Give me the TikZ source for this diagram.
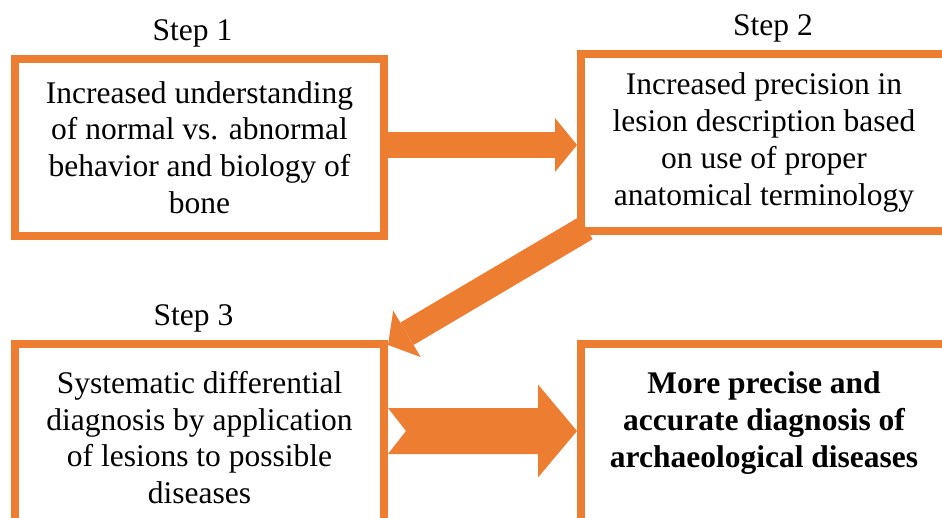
\documentclass[tikz,border=0pt]{standalone}
\usepackage{fontspec}
\setmainfont{Liberation Serif}
\definecolor{accent}{HTML}{ED7D31}
\usetikzlibrary{arrows.meta,calc}

\begin{document}
\begin{tikzpicture}[
  x=1pt, y=-1pt,
  stepbox/.style={rectangle, draw=accent, line width=8pt, fill=white, minimum width=369pt, minimum height=177pt, inner sep=0pt, align=center, font=\fontsize{31.5}{36.7}\selectfont},
  steplabel/.style={anchor=base, font=\fontsize{31.5}{36.7}\selectfont},
  flow/.style={accent, line width=26pt, -{Triangle[length=22pt, width=54pt, line width=0pt]}},
]
\useasboundingbox (0,0) rectangle (942,518);
\clip (0,0) rectangle (942,518);
\node[stepbox] (understand) at (199.5,147.5) {Increased understanding\\of normal vs. abnormal\\behavior and biology of\\bone};
\node[stepbox, minimum width=366pt] (precision) at (764,142.5) {Increased precision in\\lesion description based\\on use of proper\\anatomical terminology};
\node[stepbox, minimum height=187pt] (differential) at (199.5,437.5) {Systematic differential\\diagnosis by application\\of lesions to possible\\diseases};
\node[stepbox, minimum width=366pt, minimum height=187pt, font=\fontsize{31.5}{36.7}\selectfont\bfseries] (outcome) at (764,438) {More precise and\\accurate diagnosis of\\archaeological diseases\\\mbox{}};
\node[steplabel] (stepone) at (192.5,41) {Step 1};
\node[steplabel] (steptwo) at (773,36) {Step 2};
\node[steplabel] (stepthree) at (193.5,326) {Step 3};
\coordinate (a1) at (understand.east |- 0,145);
\draw[flow] (a1) -- (a1 -| precision.west);
\draw[flow] ($(precision.south west)+(9,-7)$) -- ($(differential.north east)+(0,5)$);
\coordinate (t3) at (differential.east |- 0,431);
\coordinate (h3) at (outcome.west |- 0,431);
\fill[accent] ($(t3)+(0,-23)$) -- ($(h3)+(-39,-23)$) -- ($(h3)+(-39,-46.5)$) -- (h3)
  -- ($(h3)+(-39,46.5)$) -- ($(h3)+(-39,23)$) -- ($(t3)+(0,23)$) -- ($(t3)+(18,0)$) -- cycle;
\end{tikzpicture}
\end{document}
